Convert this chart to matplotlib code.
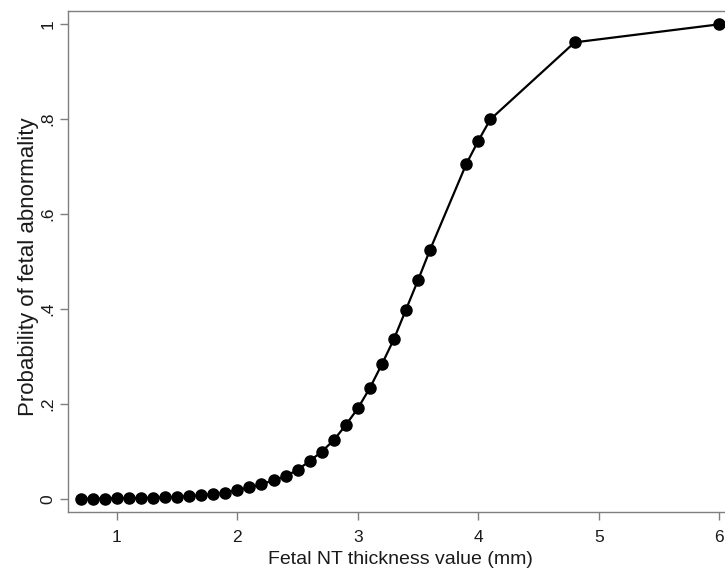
import matplotlib
matplotlib.use("Agg")
import matplotlib.pyplot as plt

plt.rcParams['font.family'] = ['Liberation Sans', 'DejaVu Sans']

nt_values = [0.7, 0.8, 0.9, 1.0, 1.1, 1.2, 1.3, 1.4, 1.5, 1.6, 1.7, 1.8, 1.9,
             2.0, 2.1, 2.2, 2.3, 2.4, 2.5, 2.6, 2.7, 2.8, 2.9,
             3.0, 3.1, 3.2, 3.3, 3.4, 3.5, 3.6, 3.9, 4.0, 4.1, 4.8, 6.0]
probability = [0.0009, 0.0011, 0.0014, 0.0017, 0.0021, 0.0026, 0.0032, 0.0040, 0.0050,
               0.0063, 0.0080, 0.0105, 0.0140,
               0.019, 0.025, 0.031, 0.040, 0.048, 0.062, 0.080, 0.100, 0.124, 0.156,
               0.191, 0.234, 0.284, 0.337, 0.399, 0.461, 0.525, 0.705, 0.754, 0.799,
               0.961, 0.999]
x_ticks = [1, 2, 3, 4, 5, 6]
y_ticks = [0, 0.2, 0.4, 0.6, 0.8, 1.0]
y_tick_labels = ['0', '.2', '.4', '.6', '.8', '1']

W, H = 725, 570
fig = plt.figure(figsize=(W / 100, H / 100), dpi=100)
left, right, top, bottom = 68, 732, 11, 512
ax = fig.add_axes([left / W, 1 - bottom / H, (right - left) / W, (bottom - top) / H])

ax.plot(nt_values, probability, color='black', linewidth=1.6,
        marker='o', markersize=8, markerfacecolor='black', markeredgecolor='black')

ax.set_xlim(0.594, 6.106)
ax.set_ylim(-0.027, 1.027)
ax.set_xticks(x_ticks)
ax.set_xticklabels([str(t) for t in x_ticks])
ax.set_yticks(y_ticks)
ax.set_yticklabels(y_tick_labels, rotation=90, va='center')

gray = '#7f7f7f'
for s in ax.spines.values():
    s.set_color(gray)
    s.set_linewidth(1.0)
ax.tick_params(axis='both', direction='out', length=6, width=1.0, color=gray,
               labelsize=12.5, labelcolor='#1a1a1a')
ax.tick_params(axis='x', pad=7)
ax.tick_params(axis='y', pad=3)

ax.set_xlabel('Fetal NT thickness value (mm)', fontsize=14, color='#1a1a1a', labelpad=4)
ax.set_ylabel('Probability of fetal abnormality', fontsize=16, color='#1a1a1a', labelpad=1)
ax.yaxis.label.set_y(0.49)

fig.savefig('out.png', dpi=100)
